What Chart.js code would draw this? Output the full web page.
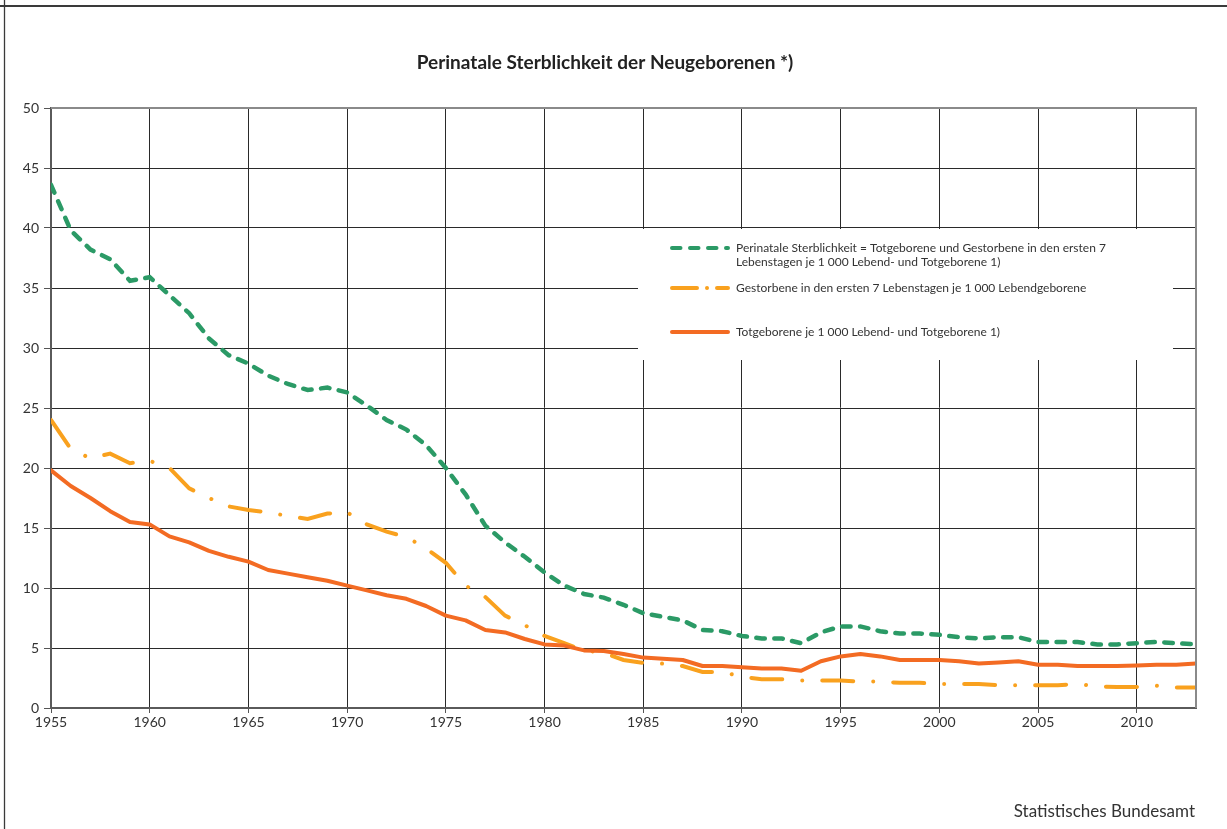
<!DOCTYPE html>
<html>
<head>
<meta charset="utf-8">
<script src="https://cdn.jsdelivr.net/npm/chart.js@4/dist/chart.umd.min.js"></script>
<style>
html,body{margin:0;padding:0;background:#fff;}
canvas{display:block;}
</style>
</head>
<body>
<canvas id="c" width="1227" height="829"></canvas>
<script>
const years = [1955,1956,1957,1958,1959,1960,1961,1962,1963,1964,1965,1966,1967,1968,1969,1970,1971,1972,1973,1974,1975,1976,1977,1978,1979,1980,1981,1982,1983,1984,1985,1986,1987,1988,1989,1990,1991,1992,1993,1994,1995,1996,1997,1998,1999,2000,2001,2002,2003,2004,2005,2006,2007,2008,2009,2010,2011,2012,2013];

const perinatal = [43.6,39.8,38.2,37.4,35.6,35.9,34.4,32.9,30.8,29.4,28.7,27.7,27.0,26.5,26.7,26.3,25.2,24.0,23.2,21.9,20.0,17.8,15.2,13.8,12.6,11.3,10.2,9.5,9.2,8.6,7.9,7.6,7.3,6.5,6.4,6.0,5.8,5.8,5.4,6.3,6.8,6.8,6.4,6.2,6.2,6.1,5.9,5.8,5.9,5.9,5.5,5.5,5.5,5.3,5.3,5.4,5.5,5.4,5.3];

const neonatal7 = [24.0,21.6,20.8,21.2,20.4,20.6,20.0,18.3,17.5,16.8,16.5,16.3,16.0,15.75,16.2,16.3,15.3,14.7,14.25,13.3,12.1,10.2,9.25,7.7,6.9,6.0,5.4,4.8,4.6,4.0,3.75,3.7,3.5,3.0,3.0,2.6,2.4,2.4,2.3,2.3,2.3,2.2,2.2,2.1,2.1,2.0,2.0,2.0,1.9,1.9,1.9,1.9,2.0,1.8,1.75,1.75,1.85,1.7,1.7];

const stillbirths = [19.8,18.5,17.5,16.4,15.5,15.3,14.3,13.8,13.1,12.6,12.2,11.5,11.2,10.9,10.6,10.2,9.8,9.4,9.1,8.5,7.7,7.3,6.5,6.3,5.75,5.3,5.2,4.8,4.75,4.5,4.2,4.1,4.0,3.5,3.5,3.4,3.3,3.3,3.1,3.9,4.3,4.5,4.3,4.0,4.0,4.0,3.9,3.7,3.8,3.9,3.6,3.6,3.5,3.5,3.5,3.55,3.6,3.6,3.7];

const yTicks = [0,5,10,15,20,25,30,35,40,45,50];
const xTicks = [1955,1960,1965,1970,1975,1980,1985,1990,1995,2000,2005,2010];

const titleText = "Perinatale Sterblichkeit der Neugeborenen *)";
const sourceText = "Statistisches Bundesamt";
const legendLabels = [
  ["Perinatale Sterblichkeit = Totgeborene und Gestorbene in den ersten 7", "Lebenstagen je 1 000 Lebend- und Totgeborene 1)"],
  ["Gestorbene in den ersten 7 Lebenstagen je 1 000 Lebendgeborene"],
  ["Totgeborene je 1 000 Lebend- und Totgeborene 1)"]
];

const GREEN = "#2b9a66", ORANGE = "#f9a11e", RED = "#f36b23";
const FONT = "Lato, 'Open Sans', sans-serif";

function pts(arr){ return years.map((y,i)=>({x:y, y:arr[i]})).filter(p=>p.y!=null); }

const framePlugin = {
  id: 'frame',
  beforeDraw(chart){
    const ctx = chart.ctx;
    ctx.save();
    ctx.fillStyle = '#fff';
    ctx.fillRect(0,0,chart.width,chart.height);
    ctx.strokeStyle = '#3a3a3a';
    ctx.lineWidth = 2;
    ctx.beginPath(); ctx.moveTo(0,6); ctx.lineTo(chart.width,6); ctx.stroke();
    ctx.lineWidth = 1.3;
    ctx.beginPath(); ctx.moveTo(4.5,0); ctx.lineTo(4.5,chart.height); ctx.stroke();
    // title
    ctx.fillStyle = '#222';
    ctx.font = "bold 19px " + FONT;
    ctx.textAlign = 'center'; ctx.textBaseline = 'middle';
    ctx.fillText(titleText, 605, 63);
    // source
    ctx.font = "17px " + FONT;
    ctx.fillStyle = '#333';
    ctx.textAlign = 'right';
    ctx.fillText(sourceText, 1195, 812);
    ctx.restore();
  },
  afterDraw(chart){
    const ctx = chart.ctx, a = chart.chartArea;
    ctx.save();
    // top and right plot border
    ctx.strokeStyle = '#8a8a8a'; ctx.lineWidth = 2;
    ctx.beginPath(); ctx.moveTo(a.left, a.top); ctx.lineTo(a.right, a.top); ctx.lineTo(a.right, a.bottom); ctx.stroke();
    // legend box
    ctx.fillStyle = '#fff';
    ctx.fillRect(638, 229, 535, 131);
    const ds = chart.data.datasets;
    const rows = [[248,262],[288],[332]];
    const dashes = [[8.5,9.5],[25,10,0.01,10],[]];
    ctx.font = "12px " + FONT;
    ctx.textAlign = 'left'; ctx.textBaseline = 'middle';
    for (let i=0;i<3;i++){
      const y0 = rows[i][0];
      ctx.strokeStyle = ds[i].borderColor;
      ctx.lineWidth = 4;
      ctx.lineCap = 'round';
      ctx.setLineDash(dashes[i]);
      ctx.beginPath(); ctx.moveTo(672, y0); ctx.lineTo(728, y0); ctx.stroke();
      ctx.setLineDash([]);
      ctx.fillStyle = '#333';
      legendLabels[i].forEach((t,j)=> ctx.fillText(t, 736, rows[i][j]));
    }
    ctx.restore();
  }
};

new Chart(document.getElementById('c'), {
  type: 'line',
  data: {
    datasets: [
      { label: legendLabels[0].join(' '), data: pts(perinatal), borderColor: GREEN, borderWidth: 4.5, borderDash: [8.5,9.5], borderCapStyle: 'round', pointRadius: 0, tension: 0, order: 1 },
      { label: legendLabels[1].join(' '), data: pts(neonatal7), borderColor: ORANGE, borderWidth: 4, borderDash: [31,20,0.01,20], borderCapStyle: 'round', pointRadius: 0, tension: 0, order: 2 },
      { label: legendLabels[2].join(' '), data: pts(stillbirths), borderColor: RED, borderWidth: 4, borderCapStyle: 'round', borderJoinStyle: 'round', pointRadius: 0, tension: 0, order: 0 }
    ]
  },
  options: {
    responsive: false,
    devicePixelRatio: 1,
    animation: false,
    layout: { padding: { left: 0, top: 108, right: 31, bottom: 81 } },
    plugins: { legend: { display: false }, title: { display: false }, tooltip: { enabled: false } },
    scales: {
      x: {
        type: 'linear', min: 1955, max: 2013,
        afterBuildTicks: s => { s.ticks = xTicks.map(v=>({value:v})); },
        afterFit: s => { s.height = 40; },
        ticks: { callback: v => String(v), color: '#333', font: { family: FONT, size: 14 }, padding: 1, maxRotation: 0 },
        grid: { color: '#2a2a2a', lineWidth: 1, tickLength: 5, tickColor: '#555' },
        border: { display: true, color: '#5a5a5a', width: 2 }
      },
      y: {
        min: 0, max: 50,
        afterBuildTicks: s => { s.ticks = yTicks.map(v=>({value:v})); },
        afterFit: s => { s.width = 51; },
        ticks: { color: '#333', font: { family: FONT, size: 14 }, padding: 5 },
        grid: { color: '#2a2a2a', lineWidth: 1, tickLength: 7, tickColor: '#555' },
        border: { display: true, color: '#5a5a5a', width: 2 }
      }
    }
  },
  plugins: [framePlugin]
});
</script>
</body>
</html>
